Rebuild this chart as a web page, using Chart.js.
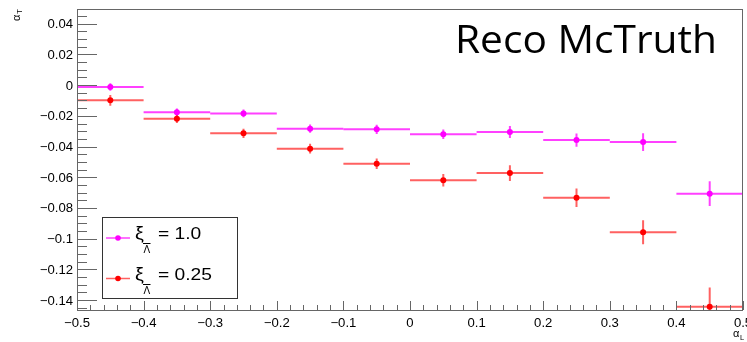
<!DOCTYPE html>
<html>
<head>
<meta charset="utf-8">
<script src="https://cdn.jsdelivr.net/npm/chart.js@4"></script>
<style>
  body { margin: 0; background: #fff; }
  #wrap { width: 747px; height: 342px; position: relative; }
</style>
</head>
<body>
<div id="wrap"><canvas id="grafica" width="747" height="342"></canvas></div>
<script>
//------------------ datos ------------------
var binCenters = [-0.45, -0.35, -0.25, -0.15, -0.05, 0.05, 0.15, 0.25, 0.35, 0.45];
var binHalfWidth = 0.05;

// xi = 1.0 (magenta)
var magentaValues = [-0.0012, -0.0177, -0.0184, -0.0284, -0.0288, -0.0320, -0.0306, -0.0358, -0.0371, -0.0707];
var magentaErrors = [0.0025, 0.0025, 0.0025, 0.0027, 0.0030, 0.0031, 0.0039, 0.0043, 0.0058, 0.0080];

// xi = 0.25 (rojo)
var redValues = [-0.0099, -0.0219, -0.0314, -0.0414, -0.0512, -0.0620, -0.0573, -0.0734, -0.0959, -0.1444];
var redErrors = [0.0035, 0.0028, 0.0030, 0.0032, 0.0034, 0.0041, 0.0051, 0.0060, 0.0078, 0.0125];

var xTickValues = [-0.5, -0.4, -0.3, -0.2, -0.1, 0, 0.1, 0.2, 0.3, 0.4, 0.5];
var xTickLabels = ['\u22120.5', '\u22120.4', '\u22120.3', '\u22120.2', '\u22120.1', '0', '0.1', '0.2', '0.3', '0.4', '0.5'];
var yTickValues = [0.04, 0.02, 0, -0.02, -0.04, -0.06, -0.08, -0.1, -0.12, -0.14];
var yTickLabels = ['0.04', '0.02', '0', '\u22120.02', '\u22120.04', '\u22120.06', '\u22120.08', '\u22120.1', '\u22120.12', '\u22120.14'];

var legendLabels = ['1.0', '0.25'];
var seriesColors = ['#ff00ff', '#ff0000'];
var barColors = ['rgba(255,0,255,0.75)', 'rgba(255,30,30,0.7)'];

var FONT = '"Liberation Sans", Arial, sans-serif';

function puntos(vals) {
    var out = [];
    for (var i = 0; i < binCenters.length; i++) {
        out.push({ x: binCenters[i], y: vals[i] });
    }
    return out;
}

function texto(ctx, str, x, y, size, sx, align, family) {
    ctx.save();
    ctx.font = size + 'px ' + (family || FONT);
    ctx.translate(x, y);
    ctx.scale(sx, 1);
    ctx.textAlign = align || 'left';
    ctx.textBaseline = 'alphabetic';
    ctx.fillStyle = '#000';
    ctx.fillText(str, 0, 0);
    ctx.restore();
}

// barras de error (horizontal = ancho del bin, vertical = error)
var errorBars = {
    id: 'errorBars',
    beforeDatasetsDraw: function (chart) {
        var ctx = chart.ctx;
        var xs = chart.scales.x, ys = chart.scales.y;
        var a = chart.chartArea;
        var errs = [magentaErrors, redErrors];
        ctx.save();
        ctx.beginPath();
        ctx.rect(a.left, a.top, a.right - a.left, a.bottom - a.top);
        ctx.clip();
        chart.data.datasets.forEach(function (ds, d) {
            ctx.strokeStyle = barColors[d];
            ctx.lineWidth = 2;
            ds.data.forEach(function (p, i) {
                var y = ys.getPixelForValue(p.y);
                var x = xs.getPixelForValue(p.x);
                ctx.beginPath();
                ctx.moveTo(xs.getPixelForValue(p.x - binHalfWidth), y);
                ctx.lineTo(xs.getPixelForValue(p.x + binHalfWidth), y);
                ctx.moveTo(x, ys.getPixelForValue(p.y + errs[d][i]));
                ctx.lineTo(x, ys.getPixelForValue(p.y - errs[d][i]));
                ctx.stroke();
            });
        });
        ctx.restore();
    }
};

// marco, ticks estilo ROOT, etiquetas y leyenda
var marco = {
    id: 'marco',
    afterDraw: function (chart) {
        var ctx = chart.ctx;
        var xs = chart.scales.x, ys = chart.scales.y;
        var a = chart.chartArea;
        var i, v, p;
        ctx.save();
        ctx.strokeStyle = '#666';
        ctx.lineWidth = 1;
        ctx.strokeRect(Math.round(a.left) + 0.5, Math.round(a.top) + 0.5,
            Math.round(a.right - a.left) - 1, Math.round(a.bottom - a.top));

        // ticks eje x (hacia arriba)
        ctx.beginPath();
        for (i = 0; i <= 50; i++) {
            v = -0.5 + i * 0.02;
            p = Math.round(xs.getPixelForValue(v)) + 0.5;
            var len = (i % 5 === 0) ? 9 : 5;
            ctx.moveTo(p, a.bottom);
            ctx.lineTo(p, a.bottom - len);
        }
        // ticks eje y (hacia la derecha)
        for (i = 0; i <= 38; i++) {
            v = -0.145 + i * 0.005;
            p = Math.round(ys.getPixelForValue(v)) + 0.5;
            var major = Math.abs(Math.round(v * 1000) % 20) === 0;
            ctx.moveTo(a.left, p);
            ctx.lineTo(a.left + (major ? 20 : 10), p);
        }
        ctx.stroke();
        ctx.restore();

        ctx.save();
        for (i = 0; i < xTickValues.length; i++) {
            texto(ctx, xTickLabels[i], xs.getPixelForValue(xTickValues[i]), 327, 12.5, 1.05, 'center');
        }
        for (i = 0; i < yTickValues.length; i++) {
            texto(ctx, yTickLabels[i], 73, ys.getPixelForValue(yTickValues[i]) + 4.5, 12.5, 1.05, 'right');
        }
        ctx.restore();

        // titulos de ejes
        ctx.save();
        ctx.translate(20, 21);
        ctx.rotate(-Math.PI / 2);
        texto(ctx, '\u03b1', 0, 0, 11, 1, 'left');
        texto(ctx, 'T', 7, 2, 8, 1, 'left');
        ctx.restore();
        texto(ctx, '\u03b1', 733, 337, 11, 1, 'left');
        texto(ctx, 'L', 740, 340, 7.5, 1, 'left');

        // texto grande
        ctx.save();
        ctx.font = '39px "Open Sans", sans-serif';
        var w = ctx.measureText('Reco McTruth').width;
        ctx.restore();
        texto(ctx, 'Reco McTruth', 455, 53, 39, 262 / w, 'left', '"Open Sans", sans-serif');

        // leyenda
        ctx.save();
        ctx.strokeStyle = '#333';
        ctx.lineWidth = 1;
        ctx.strokeRect(102.5, 217.5, 135, 81);
        for (i = 0; i < legendLabels.length; i++) {
            var ly = 238 + i * 40.5;
            var by = 239 + i * 41;
            ctx.strokeStyle = barColors[i];
            ctx.lineWidth = 1.5;
            ctx.beginPath();
            ctx.moveTo(106, ly);
            ctx.lineTo(130, ly);
            ctx.stroke();
            ctx.fillStyle = seriesColors[i];
            ctx.beginPath();
            ctx.arc(118, ly, 2.8, 0, Math.PI * 2);
            ctx.fill();
            texto(ctx, '\u03be', 135, by, 18, 1.1, 'left');
            texto(ctx, '\u039b', 143.5, by + 14, 10, 1, 'left');
            ctx.strokeStyle = '#000';
            ctx.lineWidth = 1;
            ctx.beginPath();
            ctx.moveTo(143, by + 4.5);
            ctx.lineTo(150.5, by + 4.5);
            ctx.stroke();
            texto(ctx, '= ' + legendLabels[i], 158, by, 16, 1.2, 'left');
        }
        ctx.restore();
    }
};

var data = {
    datasets: [{
        label: 'xi = 1.0',
        data: puntos(magentaValues),
        backgroundColor: seriesColors[0],
        borderWidth: 0,
        pointRadius: 3
    }, {
        label: 'xi = 0.25',
        data: puntos(redValues),
        backgroundColor: seriesColors[1],
        borderWidth: 0,
        pointRadius: 3
    }]
};

var config = {
    type: 'scatter',
    data: data,
    options: {
        responsive: false,
        animation: false,
        events: [],
        layout: { padding: { left: 77, right: 3, top: 9, bottom: 32 } },
        plugins: { legend: false, tooltip: { enabled: false } },
        scales: {
            x: { type: 'linear', min: -0.5, max: 0.5, display: false },
            y: { type: 'linear', min: -0.1465, max: 0.0496, display: false }
        }
    },
    plugins: [errorBars, marco]
};

var chart = new Chart(document.getElementById('grafica'), config);
</script>
</body>
</html>
